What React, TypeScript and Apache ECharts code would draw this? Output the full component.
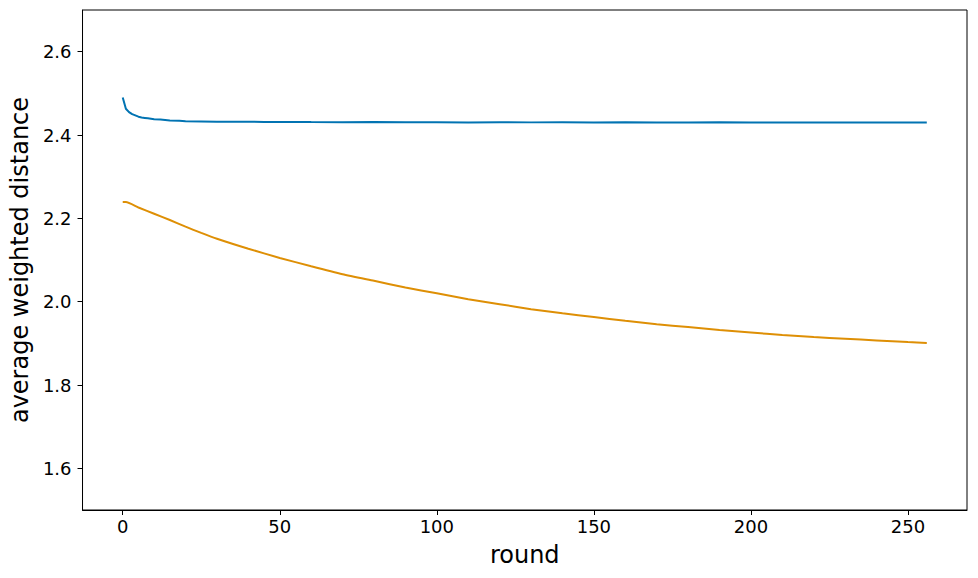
import React, { useEffect, useRef } from "react";
import * as echarts from "echarts";

const blueRounds = [0, 1, 2, 3, 4, 5, 6, 7, 8, 10, 12, 15, 18, 20, 25, 30, 35, 40, 45, 50, 60, 70, 80, 90, 100, 110, 120, 130, 140, 150, 160, 170, 180, 190, 200, 210, 220, 230, 240, 250, 256];
const blueValues = [2.49, 2.463, 2.455, 2.45, 2.447, 2.444, 2.442, 2.441, 2.44, 2.438, 2.437, 2.435, 2.434, 2.433, 2.4325, 2.432, 2.4318, 2.4318, 2.4312, 2.4315, 2.431, 2.4308, 2.4312, 2.4305, 2.4308, 2.4302, 2.4306, 2.4303, 2.4307, 2.4302, 2.4305, 2.4301, 2.4299, 2.4304, 2.4302, 2.43, 2.4303, 2.4298, 2.4301, 2.43, 2.43];

const orangeRounds = [0, 1, 5, 10, 15, 20, 25, 30, 40, 50, 60, 70, 80, 90, 100, 110, 120, 130, 140, 150, 160, 170, 180, 190, 200, 210, 220, 230, 240, 250, 256];
const orangeValues = [2.239, 2.239, 2.226, 2.211, 2.196, 2.18, 2.165, 2.151, 2.127, 2.105, 2.085, 2.066, 2.05, 2.034, 2.02, 2.006, 1.994, 1.982, 1.972, 1.963, 1.954, 1.946, 1.939, 1.932, 1.926, 1.92, 1.915, 1.911, 1.907, 1.903, 1.901];

const xTicks = [0, 50, 100, 150, 200, 250];
const yTicks = [1.6, 1.8, 2.0, 2.2, 2.4, 2.6];

export default function App() {
  const ref = useRef<HTMLDivElement>(null);
  useEffect(() => {
    if (!ref.current) return;
    const chart = echarts.init(ref.current, null, { renderer: "svg" });
    const font = "DejaVu Sans";
    chart.setOption({
      animation: false,
      backgroundColor: "#ffffff",
      grid: {
        left: 80,
        right: 11,
        top: 10,
        bottom: 68,
        show: true,
        borderColor: "#000",
        borderWidth: 1,
      },
      xAxis: {
        type: "value",
        min: -12.8,
        max: 268.8,
        name: "round",
        nameLocation: "middle",
        nameGap: 33,
        nameTextStyle: { fontFamily: font, fontSize: 24, color: "#000" },
        axisLine: { show: true, onZero: false, lineStyle: { color: "#000", width: 1 } },
        axisTick: { show: true, length: 5, lineStyle: { color: "#000" }, customValues: xTicks },
        axisLabel: { fontFamily: font, fontSize: 18, color: "#000", margin: 7, customValues: xTicks },
        splitLine: { show: false },
      },
      yAxis: {
        type: "value",
        min: 1.5,
        max: 2.7,
        name: "average weighted distance",
        nameLocation: "middle",
        nameGap: 46,
        nameTextStyle: { fontFamily: font, fontSize: 24, color: "#000" },
        axisLine: { show: true, onZero: false, lineStyle: { color: "#000", width: 1 } },
        axisTick: { show: true, length: 5, lineStyle: { color: "#000" }, customValues: yTicks },
        axisLabel: {
          fontFamily: font,
          fontSize: 18,
          color: "#000",
          margin: 11,
          customValues: yTicks,
          formatter: (v: number) => v.toFixed(1),
        },
        splitLine: { show: false },
      },
      series: [
        {
          type: "line",
          data: blueRounds.map((r, i) => [r, blueValues[i]]),
          showSymbol: false,
          lineStyle: { color: "#0173b2", width: 2 },
          itemStyle: { color: "#0173b2" },
        },
        {
          type: "line",
          data: orangeRounds.map((r, i) => [r, orangeValues[i]]),
          showSymbol: false,
          smooth: 0.2,
          lineStyle: { color: "#de8f05", width: 2 },
          itemStyle: { color: "#de8f05" },
        },
      ],
    });
    return () => chart.dispose();
  }, []);
  return (
    <div
      ref={ref}
      style={{ position: "fixed", left: 0, top: 0, width: 978, height: 578 }}
    />
  );
}
